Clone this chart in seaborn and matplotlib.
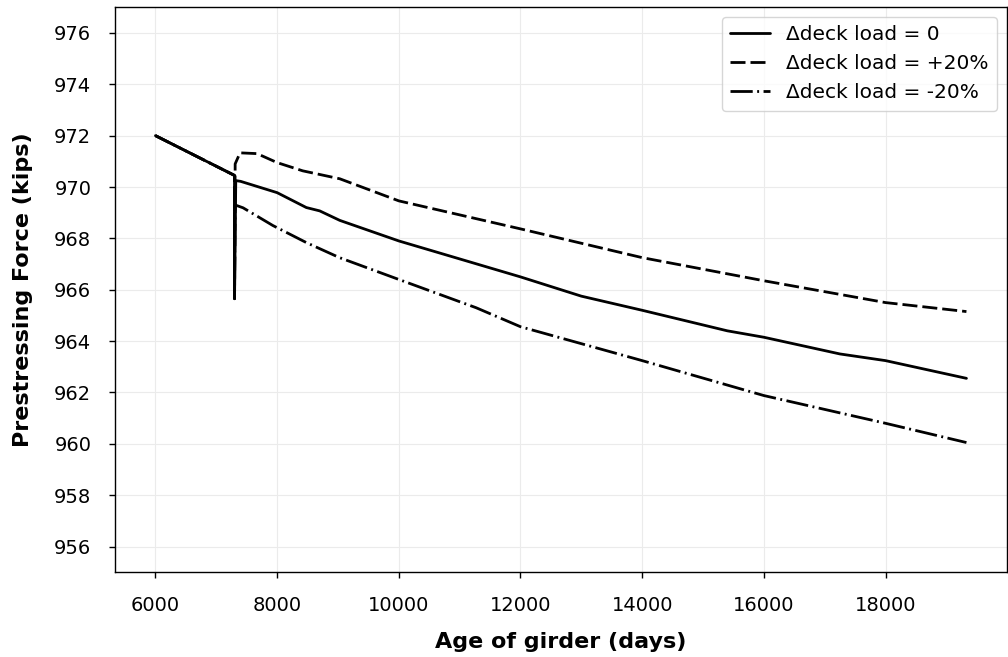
import matplotlib
matplotlib.use("Agg")
import matplotlib.pyplot as plt
import seaborn as sns
import pandas as pd

# prestressing force vs girder age, three deck load cases
days_base = [6000, 7300, 7300, 7320, 7400, 8000, 8480, 8700, 9030, 10000,
             12000, 13000, 14000, 15400, 16000, 17250, 18000, 19330]
force_base = [972.0, 970.45, 965.65, 970.25, 970.22, 969.78, 969.2, 969.07, 968.7, 967.9,
              966.5, 965.75, 965.2, 964.4, 964.15, 963.5, 963.24, 962.55]

days_plus = [6000, 7300, 7300, 7310, 7390, 7670, 8000, 8420, 9030, 10000,
             12000, 14000, 16000, 18000, 19330]
force_plus = [972.0, 970.45, 965.65, 970.9, 971.33, 971.3, 970.95, 970.63, 970.32, 969.46,
              968.37, 967.25, 966.35, 965.5, 965.15]

days_minus = [6000, 7300, 7300, 7310, 7440, 7930, 8485, 9025, 10000, 11270,
              12000, 14000, 16000, 18000, 19330]
force_minus = [972.0, 970.45, 965.65, 969.3, 969.19, 968.5, 967.83, 967.25, 966.4, 965.3,
               964.56, 963.24, 961.88, 960.8, 960.05]

labels = ["\u0394deck load = 0", "\u0394deck load = +20%", "\u0394deck load = -20%"]
styles = ["-", (0, (5.4, 1.8)), (0, (8.0, 1.6, 0.7, 1.6))]

sns.set_style("whitegrid", {"grid.color": "#ebebeb", "axes.edgecolor": "black",
                            "xtick.bottom": True, "ytick.left": True,
                            "text.color": "black", "axes.labelcolor": "black",
                            "xtick.color": "black", "ytick.color": "black"})
plt.rcParams['font.family'] = ['DejaVu Sans']

fig, ax = plt.subplots(figsize=(10.08, 6.57), dpi=100)
fig.subplots_adjust(left=0.114, right=0.999, top=0.989, bottom=0.129)

series = [(days_base, force_base), (days_plus, force_plus), (days_minus, force_minus)]
for (d, f), lab, ls in zip(series, labels, styles):
    df = pd.DataFrame({"days": d, "force": f})
    sns.lineplot(data=df, x="days", y="force", sort=False, estimator=None,
                 color="black", linewidth=2.0, linestyle=ls, label=lab, ax=ax)

ax.set_ylim(955, 977)
ax.set_yticks(range(956, 977, 2))
ax.set_xticks(range(6000, 19000, 2000))
ax.tick_params(labelsize=14, length=4, width=1, color="black")
ax.tick_params(axis="x", pad=13)
ax.tick_params(axis="y", pad=13)
ax.set_xlabel("Age of girder (days)", fontsize=16, fontweight="bold", labelpad=12)
ax.set_ylabel("Prestressing Force (kips)", fontsize=16, fontweight="bold", labelpad=15)
for s in ax.spines.values():
    s.set_linewidth(1)
ax.grid(True, linewidth=0.8)

leg = ax.legend(loc="upper right", fontsize=14.5, handlelength=2.0, frameon=True)
leg.get_frame().set_edgecolor("#cccccc")

fig.savefig("out.png", dpi=100)
